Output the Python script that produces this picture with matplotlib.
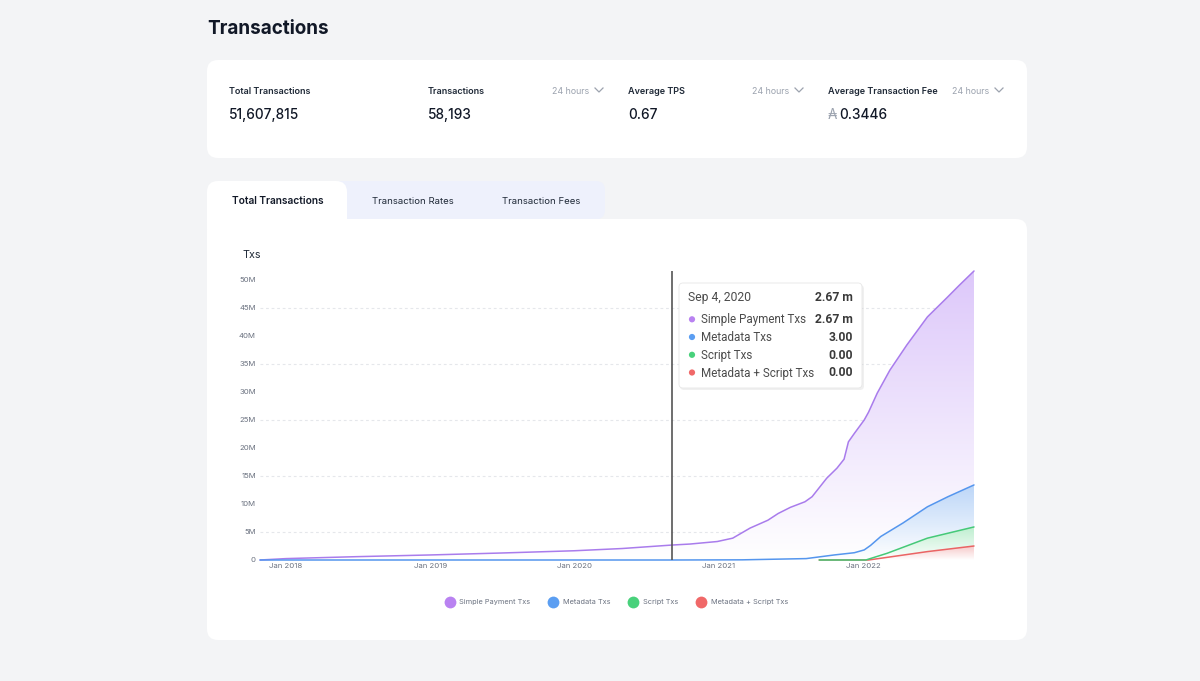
import numpy as np
import pandas as pd
import matplotlib
matplotlib.use('Agg')
import matplotlib.pyplot as plt
import matplotlib.dates as mdates
from matplotlib.patches import FancyBboxPatch
from matplotlib.lines import Line2D
from matplotlib.colors import LinearSegmentedColormap
from matplotlib.ticker import FuncFormatter, MultipleLocator

plt.rcParams['font.family'] = ['Inter', 'DejaVu Sans']

# ---- data (millions of cumulative transactions) ----
simple_dates = ['2017-10-27', '2018-01-01', '2018-07-01', '2019-01-01', '2019-07-01',
                '2020-01-01', '2020-05-01', '2020-09-04', '2020-10-20', '2020-12-28',
                '2021-02-05', '2021-03-21', '2021-05-05', '2021-05-31', '2021-07-01',
                '2021-08-07', '2021-08-25', '2021-10-01', '2021-10-27', '2021-11-14',
                '2021-11-25', '2021-12-10', '2022-01-04', '2022-01-15', '2022-02-06',
                '2022-03-10', '2022-04-22', '2022-06-13', '2022-08-01', '2022-09-01',
                '2022-10-09']
simple_vals = [0, 0.25, 0.6, 0.9, 1.25, 1.65, 2.05, 2.67, 2.85, 3.3,
               3.9, 5.7, 7.1, 8.3, 9.4, 10.4, 11.3, 14.6, 16.4, 18.0,
               21.1, 22.6, 25.0, 26.4, 29.8, 33.9, 38.4, 43.4, 46.8, 49.0,
               51.6]

meta_dates = ['2017-10-27', '2020-09-04', '2021-03-01', '2021-08-10', '2021-10-20',
              '2021-12-10', '2022-01-04', '2022-01-20', '2022-02-15', '2022-04-12',
              '2022-06-13', '2022-08-04', '2022-10-09']
meta_vals = [0, 0.000003, 0.03, 0.25, 0.9, 1.3, 1.8, 2.6, 4.2, 6.6, 9.5, 11.3, 13.4]

script_dates = ['2021-09-12', '2022-01-08', '2022-03-03', '2022-06-13', '2022-10-09']
script_vals = [0, 0, 1.2, 3.9, 5.9]

meta_script_dates = ['2021-09-12', '2022-01-15', '2022-06-13', '2022-10-09']
meta_script_vals = [0, 0, 1.5, 2.5]

series_names = ['Simple Payment Txs', 'Metadata Txs', 'Script Txs', 'Metadata + Script Txs']
line_colors = ['#a97cec', '#5596ee', '#45c978', '#ea6464']
dot_colors = ['#b982f1', '#5b9ef2', '#48d17b', '#f06868']
fill_tops = ['#ddc8fa', '#bcd6f8', '#bdeecf', '#f6c6c6']

tooltip_date = '2020-09-04'
tooltip_title = 'Sep 4, 2020'
tooltip_total = '2.67 m'
tooltip_values = ['2.67 m', '3.00', '0.00', '0.00']

stat_labels = ['Total Transactions', 'Transactions', 'Average TPS', 'Average Transaction Fee']
stat_values = ['51,607,815', '58,193', '0.67', '0.3446']
tab_labels = ['Total Transactions', 'Transaction Rates', 'Transaction Fees']

W, H = 1200, 681
fig = plt.figure(figsize=(12, 6.81), dpi=100)
fig.patch.set_facecolor('#f3f4f6')

# background layer in pixel coordinates
bg = fig.add_axes([0, 0, 1, 1], zorder=0)
bg.set_xlim(0, W)
bg.set_ylim(H, 0)
bg.axis('off')


def rbox(a, x0, y0, x1, y1, color, r=10, **kw):
    a.add_patch(FancyBboxPatch((x0, y0), x1 - x0, y1 - y0,
                               boxstyle=f'round,pad=0,rounding_size={r}',
                               facecolor=color, edgecolor=kw.pop('ec', 'none'), **kw))


bg.text(207, 33.5, 'Transactions', fontsize=13.6, fontweight='bold', color='#111827', va='baseline')

# stats card
rbox(bg, 207, 60, 1027, 158, 'white', r=11)
stat_x = [229, 428, 628, 828]
for i, (lab, val) in enumerate(zip(stat_labels, stat_values)):
    bg.text(stat_x[i], 94, lab, fontsize=6.5, fontweight='semibold', color='#1f2937', va='baseline')
    if i == 3:
        bg.text(stat_x[i], 118.7, '\u20b3', fontsize=9.8, color='#9ca3af', va='baseline')
        bg.text(839, 118.7, val, fontsize=9.8, fontweight='medium', color='#111827', va='baseline')
    else:
        bg.text(stat_x[i], 118.7, val, fontsize=9.8, fontweight='medium', color='#111827', va='baseline')
    if i > 0:
        hx = stat_x[i] + 124.5
        bg.text(hx, 93.5, '24 hours', fontsize=6.4, color='#9ca3af', va='baseline')
        cx = hx + 46.5
        bg.plot([cx - 4, cx, cx + 4], [88, 92, 88], color='#9ca3af', lw=0.9)

# tabs and chart card
rbox(bg, 207, 219, 1027, 640, 'white', r=11)
rbox(bg, 300, 181, 605, 219, '#eef1fc', r=9)
bg.add_patch(plt.Rectangle((300, 200), 300, 19, facecolor='#eef1fc', edgecolor='none'))
rbox(bg, 207, 181, 347, 240, 'white', r=11)
tab_cx = [277.5, 413, 541.5]
for i, t in enumerate(tab_labels):
    bg.text(tab_cx[i], 204.3, t, fontsize=7.3 if i == 0 else 6.9, ha='center', va='baseline',
            color='#111827' if i == 0 else '#1f2937',
            fontweight='semibold' if i == 0 else 'normal')
bg.text(242.5, 258.3, 'Txs', fontsize=7.8, color='#1f2937', va='baseline')

# ---- chart ----
ax = fig.add_axes([260 / W, 1 - 560 / H, 714 / W, 289 / H], zorder=1)
ax.set_facecolor('none')

all_dates = [simple_dates, meta_dates, script_dates, meta_script_dates]
all_vals = [simple_vals, meta_vals, script_vals, meta_script_vals]
xs = [mdates.date2num(pd.to_datetime(d)) for d in all_dates]
ys = [np.array(v) * 1e6 for v in all_vals]

for i in range(4):
    x, y = xs[i], ys[i]
    poly = ax.fill_between(x, 0, y, facecolor='none', edgecolor='none')
    cmap = LinearSegmentedColormap.from_list(f'g{i}', ['white', fill_tops[i]])
    grad = np.linspace(0, 1, 256).reshape(-1, 1)
    im = ax.imshow(grad, aspect='auto', extent=[x.min(), x.max(), 0, y.max()], origin='lower',
                   cmap=cmap, zorder=1 + i * 0.1, interpolation='bilinear')
    im.set_clip_path(poly.get_paths()[0], transform=ax.transData)

for i in [3, 2, 0, 1]:
    ax.plot(xs[i], ys[i], color=line_colors[i], lw=1.1, zorder=3, solid_capstyle='round', clip_on=False)

ax.axvline(mdates.date2num(pd.Timestamp(tooltip_date)), color='#555555', lw=1.2, zorder=4)

ax.set_xlim(xs[0][0], xs[0][-1])
ax.set_ylim(0, 51.6e6)
ax.yaxis.set_major_locator(MultipleLocator(5e6))
ax.yaxis.set_major_formatter(FuncFormatter(lambda v, p: '0' if v == 0 else f'{v / 1e6:.0f}M'))
ax.xaxis.set_major_locator(mdates.YearLocator())
ax.xaxis.set_major_formatter(mdates.DateFormatter('%b %Y'))
ax.tick_params(axis='both', length=0, labelsize=5.6, labelcolor='#6b7280')
ax.tick_params(axis='y', pad=3)
ax.tick_params(axis='x', pad=2.5)
ax.grid(axis='y', color='#e5e7eb', lw=0.8, linestyle=(0, (2.5, 2.5)), zorder=0)
ax.set_axisbelow(True)
fig.canvas.draw()
for i, gl in enumerate(ax.get_ygridlines()):
    gl.set_visible(i % 2 == 0 and i > 0)
for s in ax.spines.values():
    s.set_visible(False)

# ---- tooltip overlay ----
top = fig.add_axes([0, 0, 1, 1], zorder=3)
top.set_xlim(0, W)
top.set_ylim(H, 0)
top.axis('off')
rbox(top, 680, 285, 864, 390, '#000000', r=4, alpha=0.06)
rbox(top, 679, 283, 862, 388, 'white', r=4, ec='#e7e7e7', lw=0.6)
tfam = ['Roboto', 'DejaVu Sans']
top.text(688, 300.7, tooltip_title, fontsize=8.7, color='#4b4b4b', va='baseline', family=tfam)
top.text(853, 300.7, tooltip_total, fontsize=8.7, color='#3a3a3a', va='baseline', ha='right',
         fontweight='bold', family=tfam)
row_base = [323.3, 341.0, 358.8, 376.5]
for i in range(4):
    top.scatter([692], [row_base[i] - 4], s=20, color=dot_colors[i], edgecolor='none')
    top.text(701, row_base[i], series_names[i], fontsize=8.4, color='#4b4b4b', va='baseline', family=tfam)
    top.text(853, row_base[i], tooltip_values[i], fontsize=8.7, color='#3a3a3a', va='baseline', ha='right',
             fontweight='bold', family=tfam)

# ---- legend ----
handles = [Line2D([], [], marker='o', linestyle='none', markersize=8.5, markerfacecolor=c,
                  markeredgecolor='none') for c in dot_colors]
fig.legend(handles, series_names, loc='center', bbox_to_anchor=(617 / W, 1 - 602 / H), ncol=4,
           frameon=False, fontsize=5.3, labelcolor='#6b7280', handlelength=0.9,
           handletextpad=0.9, columnspacing=2.6, borderaxespad=0)

fig.savefig('out.png', dpi=100, facecolor=fig.get_facecolor())
